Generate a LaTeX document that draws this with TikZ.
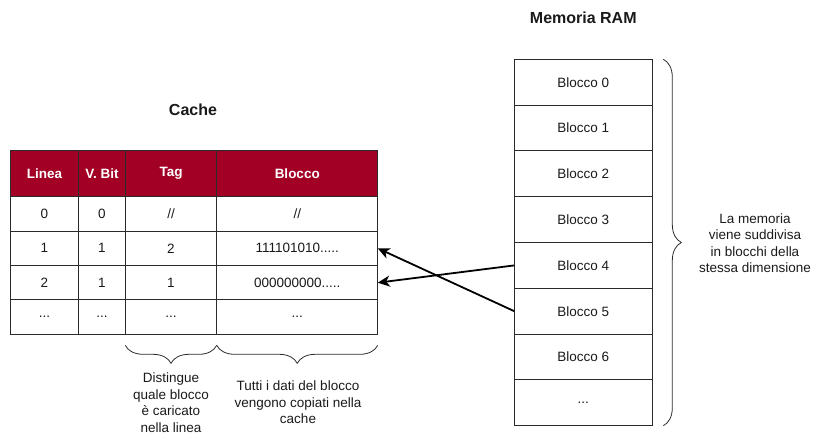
\documentclass[tikz,border=0pt]{standalone}
\usepackage{fontspec}
\setmainfont{Liberation Sans}
\usetikzlibrary{arrows.meta,positioning,decorations.pathreplacing}
\definecolor{ink}{HTML}{1A1A1A}
\definecolor{border}{HTML}{2B2B2B}
\definecolor{crimson}{HTML}{A20025}
\tikzset{
  cellbase/.style={draw=border, line width=0.9pt, inner sep=0pt, outer sep=0pt, font=\fontsize{13.5}{15}\selectfont, text=ink},
  headcell/.style={cellbase, fill=crimson, text=white, font=\fontsize{13.5}{15}\selectfont\bfseries, minimum height=46pt},
  bodycell/.style={cellbase, fill=white, minimum height=34.4pt},
  ramblock/.style={cellbase, fill=white, minimum width=138pt, minimum height=45.8pt},
  collinea/.style={minimum width=68.5pt},
  colvbit/.style={minimum width=46.5pt},
  coltag/.style={minimum width=91.5pt},
  colblocco/.style={minimum width=161pt},
  flow/.style={-{Stealth[length=12pt,width=11pt,inset=3.5pt]}, line width=1.8pt, draw=black},
  bracket/.style={decorate, decoration={brace, amplitude=18pt}, line width=0.8pt, draw=border},
  note/.style={font=\fontsize{13.5}{16.5}\selectfont, text=ink, align=center},
  heading/.style={font=\fontsize{16}{18}\selectfont\bfseries, text=ink}
}
\begin{document}
\begin{tikzpicture}[x=1pt,y=-1pt]
\useasboundingbox (0,0) rectangle (826,445);

% Cache table
\node[heading] (cachetitle) at (193,110) {Cache};
\node[headcell, collinea] (hlinea) at (44.5,173.7) {Linea};
\node[headcell, colvbit, right=0pt of hlinea] (hvbit) {V. Bit};
\node[headcell, coltag, right=0pt of hvbit] (htag) {Tag};
\node[headcell, colblocco, right=0pt of htag] (hblocco) {Blocco};

\node[bodycell, collinea, below=0pt of hlinea] (r0linea) {0};
\node[bodycell, colvbit, right=0pt of r0linea] (r0vbit) {0};
\node[bodycell, coltag, right=0pt of r0vbit] (r0tag) {//};
\node[bodycell, colblocco, right=0pt of r0tag] (r0blocco) {//};

\node[bodycell, collinea, below=0pt of r0linea] (r1linea) {1};
\node[bodycell, colvbit, right=0pt of r1linea] (r1vbit) {1};
\node[bodycell, coltag, right=0pt of r1vbit] (r1tag) {2};
\node[bodycell, colblocco, right=0pt of r1tag] (r1blocco) {111101010.....};

\node[bodycell, collinea, below=0pt of r1linea] (r2linea) {2};
\node[bodycell, colvbit, right=0pt of r2linea] (r2vbit) {1};
\node[bodycell, coltag, right=0pt of r2vbit] (r2tag) {1};
\node[bodycell, colblocco, right=0pt of r2tag] (r2blocco) {000000000.....};

\node[bodycell, collinea, below=0pt of r2linea] (r3linea) {...};
\node[bodycell, colvbit, right=0pt of r3linea] (r3vbit) {...};
\node[bodycell, coltag, right=0pt of r3vbit] (r3tag) {...};
\node[bodycell, colblocco, right=0pt of r3tag] (r3blocco) {...};

% Braces under the table
\draw[bracket] ([yshift=-11pt]r3tag.south east) -- ([yshift=-11pt]r3tag.south west);
\draw[bracket] ([yshift=-11pt]r3blocco.south east) -- ([yshift=-11pt]r3blocco.south west);
\node[note] (tagnote) at (171,402.5) {Distingue\\quale blocco\\è caricato\\nella linea};
\node[note] (blocconote) at (298,402.5) {Tutti i dati del blocco\\vengono copiati nella\\cache};

% RAM
\node[heading] (ramtitle) at (583.3,18) {Memoria RAM};
\node[ramblock] (ram0) at (583.3,82.2) {Blocco 0};
\node[ramblock, below=0pt of ram0] (ram1) {Blocco 1};
\node[ramblock, below=0pt of ram1] (ram2) {Blocco 2};
\node[ramblock, below=0pt of ram2] (ram3) {Blocco 3};
\node[ramblock, below=0pt of ram3] (ram4) {Blocco 4};
\node[ramblock, below=0pt of ram4] (ram5) {Blocco 5};
\node[ramblock, below=0pt of ram5] (ram6) {Blocco 6};
\node[ramblock, below=0pt of ram6] (ram7) {...};

\draw[bracket] ([xshift=11pt]ram0.north east) -- ([xshift=11pt]ram7.south east);
\node[note] (ramnote) at (755,243) {La memoria\\viene suddivisa\\in blocchi della\\stessa dimensione};

% Loading arrows
\draw[flow] (ram4.west) -- (r2blocco.east);
\draw[flow] (ram5.west) -- (r1blocco.east);
\end{tikzpicture}
\end{document}
